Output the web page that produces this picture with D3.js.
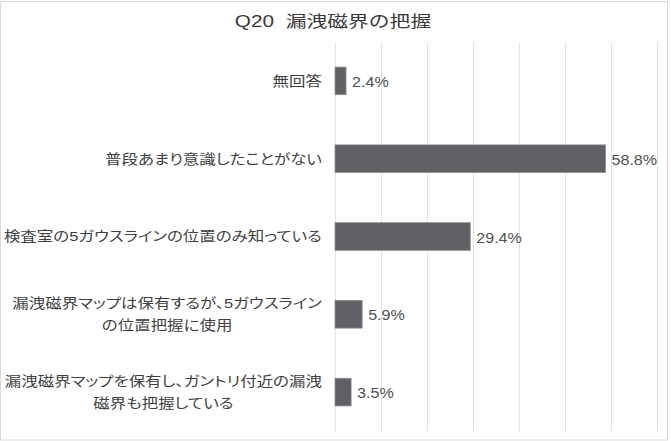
<!DOCTYPE html>
<html>
<head>
<meta charset="utf-8">
<script src="https://cdn.jsdelivr.net/npm/d3@7"></script>
<style>
  body { margin: 0; background: #fff; }
  text { font-family: "Liberation Sans", "Noto Sans CJK JP", sans-serif; }
  .cat { font-feature-settings: "palt"; }
</style>
</head>
<body>
<div id="chart"></div>
<script>
// chart data
const title = "Q20  漏洩磁界の把握";
const categories = [
    ["無回答"],
    ["普段あまり意識したことがない"],
    ["検査室の5ガウスラインの位置のみ知っている"],
    ["漏洩磁界マップは保有するが、5ガウスライン", "の位置把握に使用"],
    ["漏洩磁界マップを保有し、ガントリ付近の漏洩", "磁界も把握している"]
];
const values = [2.4, 58.8, 29.4, 5.9, 3.5];
const xMax = 70;

const width = 671, height = 441;
const margin = { top: 42, right: 14, bottom: 10, left: 335 };

const svg = d3.select("#chart")
    .append("svg")
    .attr("width", width)
    .attr("height", height);

// outer frame
svg.append("rect")
    .attr("x", 0.5).attr("y", 1.5)
    .attr("width", 667).attr("height", 438.5)
    .style("fill", "none")
    .style("stroke", "#d9d9d9");

var x = d3.scaleLinear()
    .domain([0, xMax])
    .range([margin.left, 657]);

var y = d3.scaleBand()
    .domain(d3.range(categories.length))
    .range([margin.top, 431])
    .paddingInner(0.645)
    .paddingOuter(0.3225);

// grid lines
svg.append("g")
    .selectAll("line")
    .data(x.ticks(7))
    .enter()
    .append("line")
    .attr("x1", d => x(d) + 0.5)
    .attr("x2", d => x(d) + 0.5)
    .attr("y1", margin.top)
    .attr("y2", 431)
    .style("stroke", "#e3e3e3")
    .style("stroke-width", 1);

// title
svg.append("text")
    .attr("transform", "translate(333,21) scale(1.3,1)")
    .attr("text-anchor", "middle")
    .attr("dominant-baseline", "central")
    .style("font-size", "16px")
    .style("fill", "#3a3a3a")
    .style("white-space", "pre")
    .text(title);

// bars
svg.append("g")
    .selectAll("rect")
    .data(values)
    .enter()
    .append("rect")
    .attr("x", x(0))
    .attr("y", (d, i) => y(i))
    .attr("width", d => x(d) - x(0))
    .attr("height", y.bandwidth())
    .style("fill", "#606165")
    .style("stroke", "#8c8c8e")
    .style("stroke-width", 0.8);

// value labels
svg.append("g")
    .selectAll("text")
    .data(values)
    .enter()
    .append("text")
    .attr("transform", (d, i) => "translate(" + (x(d) + 6) + "," + (y(i) + y.bandwidth() / 2 + 1) + ") scale(1.15,1)")
    .attr("dominant-baseline", "central")
    .style("font-size", "14px")
    .style("fill", "#505050")
    .text(d => d.toFixed(1) + "%");

// category labels, multi-line blocks are centred and right aligned as a block
const labelRight = 322;
const lineGap = 22;
const sx = 1.22;

categories.forEach((lines, i) => {
    var g = svg.append("g");
    var cy = y(i) + y.bandwidth() / 2;
    var texts = lines.map((line, j) => g.append("text")
        .attr("class", "cat")
        .attr("dominant-baseline", "central")
        .attr("text-anchor", "middle")
        .style("font-size", "13.5px")
        .style("fill", "#3f3f3f")
        .text(line));
    var maxW = d3.max(texts, t => t.node().getComputedTextLength()) * sx;
    var cx = labelRight - maxW / 2;
    texts.forEach((t, j) => {
        var ty = cy + (j - (lines.length - 1) / 2) * lineGap;
        t.attr("transform", "translate(" + cx + "," + ty + ") scale(" + sx + ",1)");
    });
});
</script>
</body>
</html>
